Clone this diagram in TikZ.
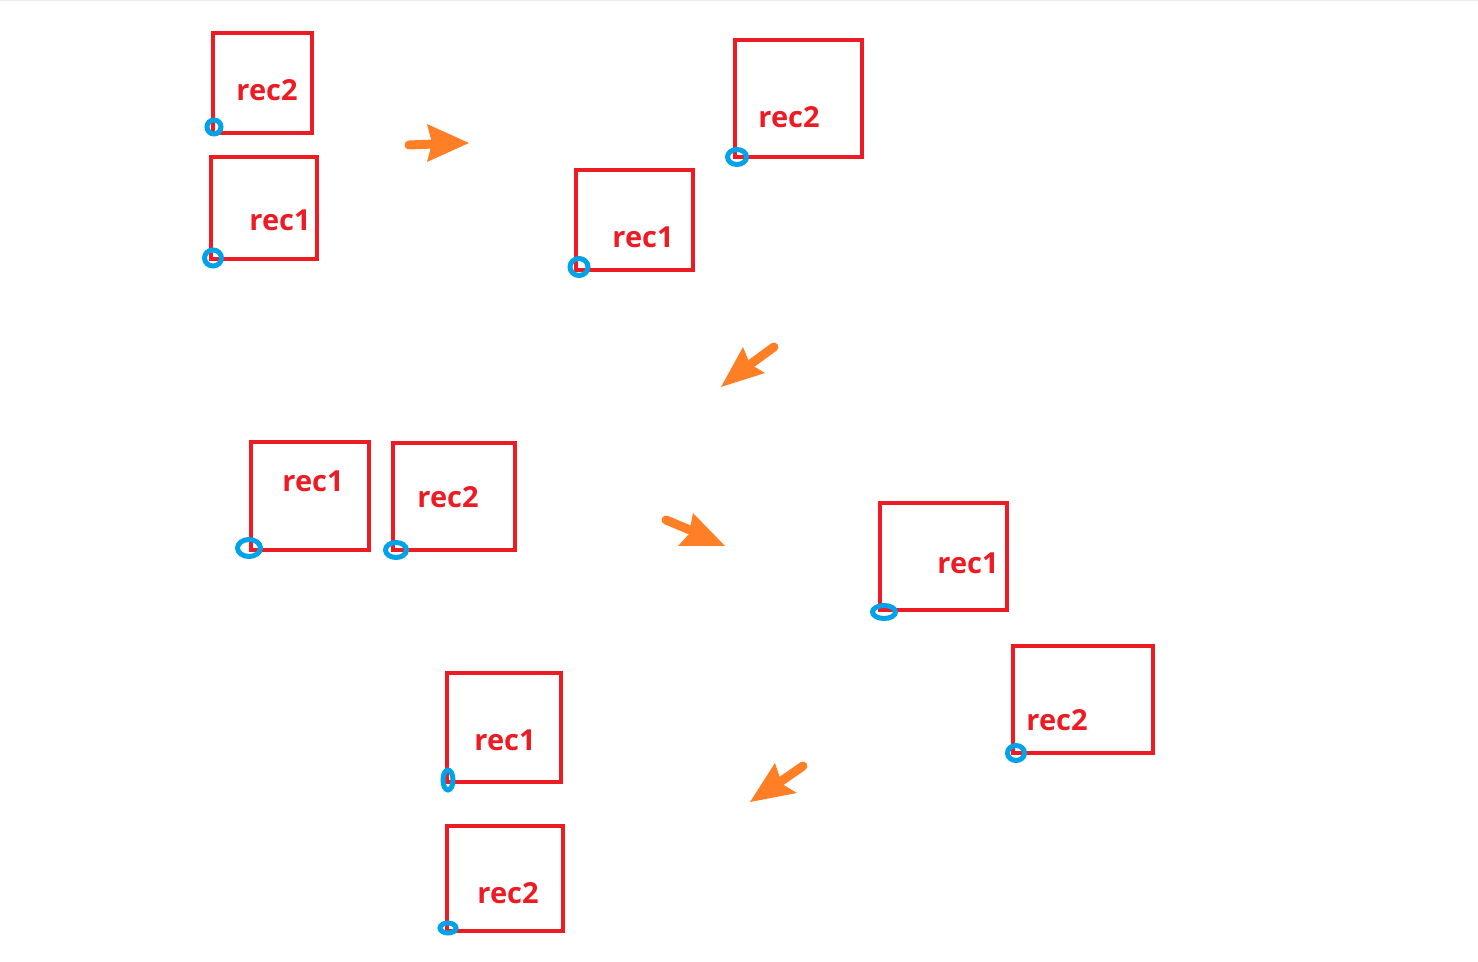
\documentclass[tikz,border=0pt]{standalone}
\usepackage{fontspec}
\setmainfont{Open Sans}
\definecolor{rojo}{HTML}{ED1C24}
\definecolor{azul}{HTML}{00A2E8}
\definecolor{naranja}{HTML}{FF7F27}
\tikzset{
  caja/.style={draw=rojo, line width=0.08cm},
  etiqueta/.style={text=rojo, font=\fontsize{16.5}{18}\selectfont\bfseries, inner sep=0pt},
  punto/.style={draw=azul, line width=0.1cm},
  asta/.style={draw=naranja, line width=0.18cm, line cap=round},
  punta/.style={fill=naranja}
}
\begin{document}
\begin{tikzpicture}[x={(0.02cm,0)}, y={(0,-0.02cm)}]
\useasboundingbox (0,0) rectangle (1478,962);
% Linea superior
\fill[black!7] (0,0) rectangle (1478,1.5);
% Paso 1
\draw[caja] (213,33) rectangle (312,133);
\node[etiqueta] (r2a) at (267,90) {rec2};
\draw[caja] (211,157) rectangle (317,259);
\node[etiqueta] (r1a) at (280,220) {rec1};
\draw[punto] (214,127) ellipse [x radius=0.14cm, y radius=0.14cm];
\draw[punto] (213,258) ellipse [x radius=0.17cm, y radius=0.16cm];
% Flecha 1
\draw[asta] (409,145) -- (434,144);
\fill[punta] (427,124) -- (469,143) -- (427,162) -- (432,143) -- cycle;
% Paso 2
\draw[caja] (576,170) rectangle (693,270);
\node[etiqueta] (r1b) at (643,237) {rec1};
\draw[caja] (735,40) rectangle (862,157);
\node[etiqueta] (r2b) at (789,117) {rec2};
\draw[punto] (579,267) ellipse [x radius=0.18cm, y radius=0.17cm];
\draw[punto] (737,157) ellipse [x radius=0.19cm, y radius=0.15cm];
% Flecha 2
\draw[asta] (774,347) -- (752,363);
\fill[punta] (743,347) -- (721,387) -- (765,373) -- (750,364) -- cycle;
% Paso 3
\draw[caja] (251,442) rectangle (369,550);
\node[etiqueta] (r1c) at (313,481) {rec1};
\draw[caja] (393,443) rectangle (515,550);
\node[etiqueta] (r2c) at (448,497) {rec2};
\draw[punto] (249,548) ellipse [x radius=0.23cm, y radius=0.17cm];
\draw[punto] (396,550) ellipse [x radius=0.21cm, y radius=0.15cm];
% Flecha 3
\draw[asta] (666,520) -- (690,530);
\fill[punta] (693,513) -- (725,546) -- (678,546) -- (689,534) -- cycle;
% Paso 4
\draw[caja] (880,503) rectangle (1007,610);
\node[etiqueta] (r1d) at (968,563) {rec1};
\draw[caja] (1013,646) rectangle (1153,753);
\node[etiqueta] (r2d) at (1057,720) {rec2};
\draw[punto] (884,612) ellipse [x radius=0.23cm, y radius=0.13cm];
\draw[punto] (1016,753) ellipse [x radius=0.17cm, y radius=0.15cm];
% Flecha 4
\draw[asta] (803,766) -- (780,782);
\fill[punta] (775,763) -- (750,802) -- (797,793) -- (782,784) -- cycle;
% Paso 5
\draw[caja] (447,673) rectangle (561,782);
\node[etiqueta] (r1e) at (505,740) {rec1};
\draw[caja] (447,826) rectangle (563,931);
\node[etiqueta] (r2e) at (508,893) {rec2};
\draw[punto] (448,780) ellipse [x radius=0.1cm, y radius=0.2cm];
\draw[punto] (448,928) ellipse [x radius=0.16cm, y radius=0.1cm];
\end{tikzpicture}
\end{document}
